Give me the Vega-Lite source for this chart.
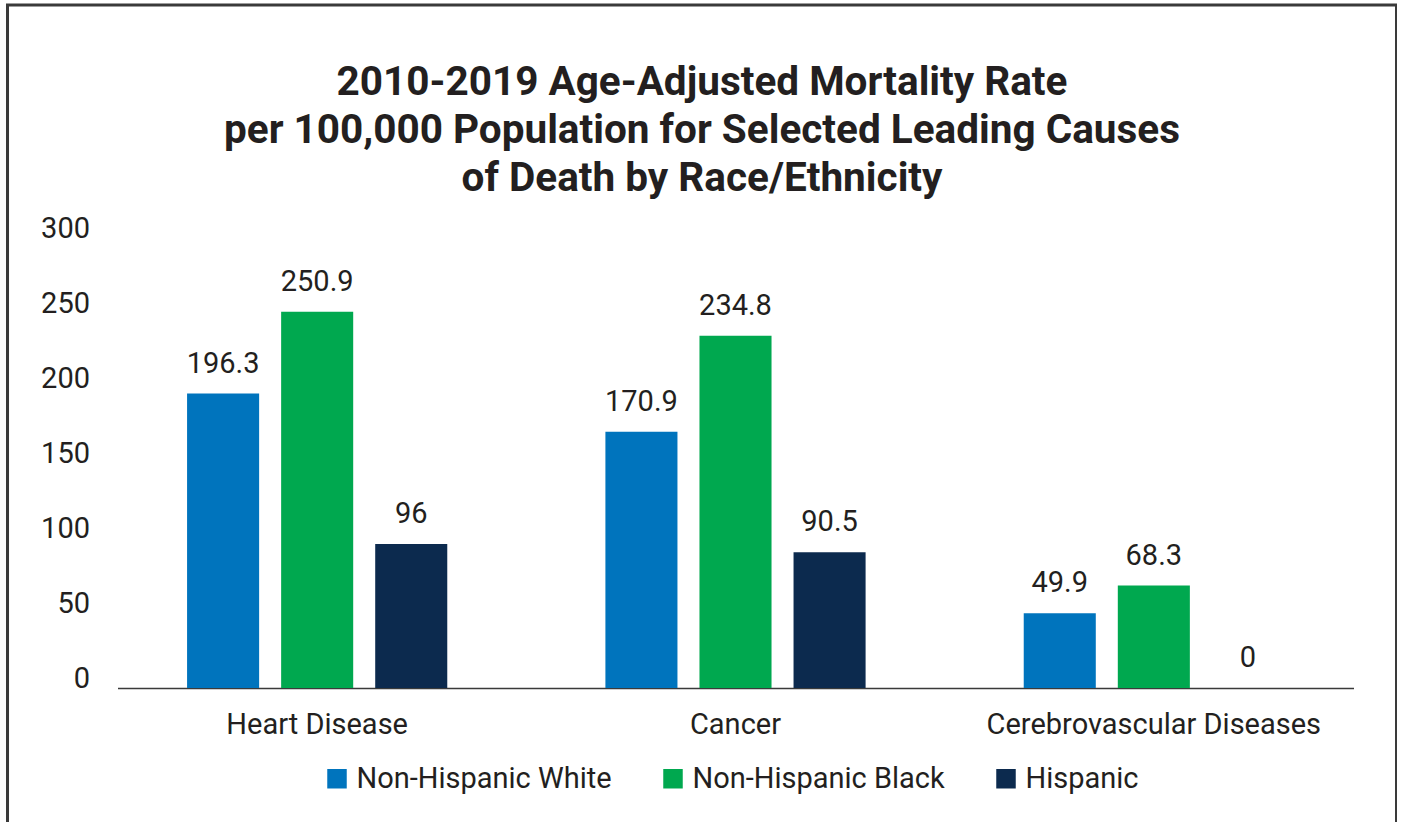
{
  "$schema": "https://vega.github.io/schema/vega-lite/v6.json",
  "width": 1389,
  "height": 825,
  "autosize": {"type": "none"},
  "padding": {"left": 7.5, "top": 5, "right": 0, "bottom": 0},
  "background": "white",
  "title": {
    "text": ["2010-2019 Age-Adjusted Mortality Rate", "per 100,000 Population for Selected Leading Causes", "of Death by Race/Ethnicity"],
    "font": "Roboto",
    "fontSize": 40.5,
    "fontWeight": "bold",
    "color": "#231f20",
    "lineHeight": 48,
    "anchor": "middle",
    "frame": "group",
    "offset": -194
  },
  "data": {
    "values": [
      {"cause": "Heart Disease", "group": "Non-Hispanic White", "rate": 196.3},
      {"cause": "Heart Disease", "group": "Non-Hispanic Black", "rate": 250.9},
      {"cause": "Heart Disease", "group": "Hispanic", "rate": 96},
      {"cause": "Cancer", "group": "Non-Hispanic White", "rate": 170.9},
      {"cause": "Cancer", "group": "Non-Hispanic Black", "rate": 234.8},
      {"cause": "Cancer", "group": "Hispanic", "rate": 90.5},
      {"cause": "Cerebrovascular Diseases", "group": "Non-Hispanic White", "rate": 49.9},
      {"cause": "Cerebrovascular Diseases", "group": "Non-Hispanic Black", "rate": 68.3},
      {"cause": "Cerebrovascular Diseases", "group": "Hispanic", "rate": 0}
    ]
  },
  "encoding": {
    "x": {
      "field": "cause",
      "type": "nominal",
      "sort": null,
      "scale": {"range": [110, 1346], "paddingInner": 0.3254, "paddingOuter": 0.14},
      "axis": {
        "title": null,
        "orient": "bottom",
        "offset": -142,
        "domain": true,
        "domainColor": "#3a3a3a",
        "domainWidth": 1.5,
        "ticks": false,
        "grid": false,
        "labelAngle": 0,
        "labelFont": "Roboto",
        "labelFontSize": 29,
        "labelColor": "#231f20",
        "labelPadding": 22,
        "labelLimit": 600
      }
    },
    "xOffset": {
      "field": "group",
      "type": "nominal",
      "sort": ["Non-Hispanic White", "Non-Hispanic Black", "Hispanic"],
      "scale": {"paddingInner": 0.234, "paddingOuter": 0.117}
    },
    "y": {
      "field": "rate",
      "type": "quantitative",
      "scale": {"domain": [-94.67, 455.33], "nice": false, "zero": false},
      "axis": {
        "title": null,
        "values": [0, 50, 100, 150, 200, 250, 300],
        "domain": false,
        "ticks": false,
        "grid": false,
        "offset": -84,
        "labelPadding": 2,
        "labelBaseline": "alphabetic",
        "labelFont": "Roboto",
        "labelFontSize": 29,
        "labelColor": "#231f20"
      }
    }
  },
  "layer": [
    {
      "mark": {"type": "bar"},
      "encoding": {
        "color": {
          "field": "group",
          "type": "nominal",
          "scale": {
            "domain": ["Non-Hispanic White", "Non-Hispanic Black", "Hispanic"],
            "range": ["#0074bd", "#00a84f", "#0c2a4e"]
          },
          "legend": {
            "title": null,
            "orient": "none",
            "legendX": 315,
            "legendY": 759,
            "direction": "horizontal",
            "symbolType": "square",
            "symbolSize": 380,
            "symbolStrokeWidth": 0,
            "labelFont": "Roboto",
            "labelFontSize": 29,
            "labelColor": "#231f20",
            "labelOffset": 5,
            "labelLimit": 400,
            "columnPadding": 46,
            "padding": 0
          }
        }
      }
    },
    {
      "mark": {"type": "text", "dy": -21, "baseline": "alphabetic", "font": "Roboto", "fontSize": 29, "color": "#231f20"},
      "encoding": {
        "text": {"field": "rate", "type": "quantitative", "format": "~g"}
      }
    }
  ],
  "config": {
    "view": {"stroke": "#3a3a3a", "strokeWidth": 3}
  }
}
